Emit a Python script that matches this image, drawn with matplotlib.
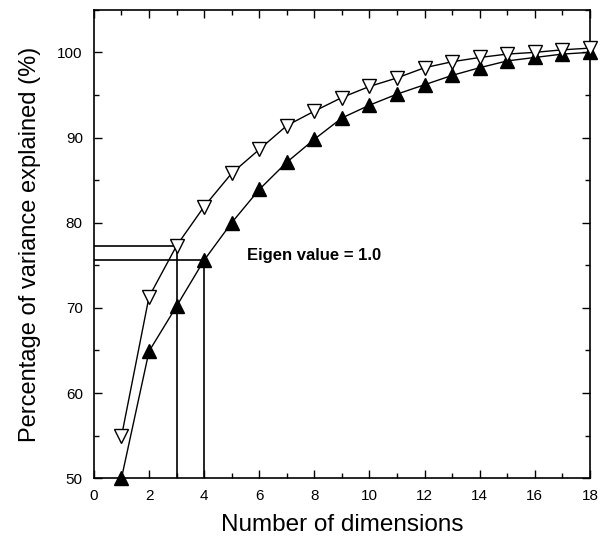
#!/usr/bin/env python3

import matplotlib
matplotlib.use('Agg')
import matplotlib.pyplot as plt
from matplotlib.ticker import MultipleLocator

dims = list(range(1, 19))
open_pct = [54.9, 71.3, 77.3, 81.9, 85.8, 88.6, 91.4, 93.1, 94.7,
            96.0, 97.0, 98.2, 98.9, 99.4, 99.8, 100.0, 100.3, 100.5]
filled_pct = [50.0, 64.9, 70.2, 75.6, 80.0, 83.9, 87.1, 89.8, 92.3,
              93.8, 95.1, 96.2, 97.3, 98.2, 99.0, 99.4, 99.8, 100.0]

# eigen value = 1.0 cut-offs
cut_open = (3, 77.3)
cut_filled = (4, 75.6)

plt.rcParams['font.family'] = ['Liberation Sans', 'DejaVu Sans']

fig = plt.figure(figsize=(6.02, 5.44), dpi=100)
ax = fig.add_axes([0.156, 0.121, 0.824, 0.861])

for cx, cy in (cut_open, cut_filled):
    ax.plot([cx, cx], [50, cy], color='black', lw=1.2, zorder=1)
    ax.plot([0, cx], [cy, cy], color='black', lw=1.2, zorder=1)

ax.plot(dims, open_pct, color='black', lw=1.0, marker='v', ms=10,
        mfc='white', mec='black', mew=1.0, zorder=3, clip_on=False)
ax.plot(dims, filled_pct, color='black', lw=1.0, marker='^', ms=10,
        mfc='black', mec='black', zorder=2, clip_on=False)

ax.text(5.55, 76.2, 'Eigen value = 1.0', fontsize=12, fontweight='bold',
        va='center', ha='left')

ax.set_xlim(0, 18)
ax.set_ylim(50, 105)
ax.xaxis.set_major_locator(MultipleLocator(2))
ax.xaxis.set_minor_locator(MultipleLocator(1))
ax.yaxis.set_major_locator(MultipleLocator(10))
ax.yaxis.set_minor_locator(MultipleLocator(5))
ax.set_yticks([50, 60, 70, 80, 90, 100])
ax.tick_params(which='both', direction='in', top=True, right=True,
               labelsize=11, width=1.0)
ax.tick_params(which='major', length=6, pad=8)
ax.tick_params(which='minor', length=3.5)
for s in ax.spines.values():
    s.set_linewidth(1.2)

ax.set_xlabel('Number of dimensions', fontsize=17.5, labelpad=8)
ax.set_ylabel('Percentage of variance explained (%)', fontsize=17,
              labelpad=12)

fig.savefig('out.png', dpi=100)
